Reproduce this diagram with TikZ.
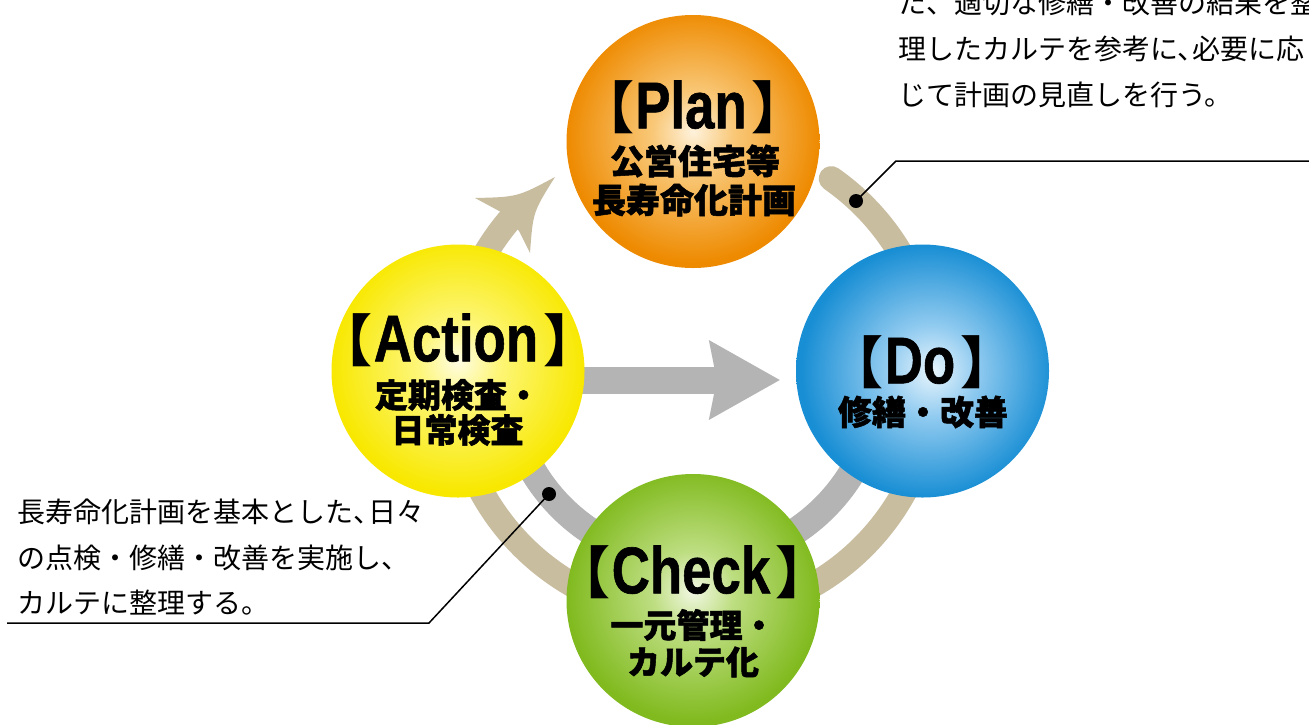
\documentclass[tikz,border=0pt]{standalone}
\usepackage{fontspec}
\usepackage{graphicx}
\newfontfamily\jp{Noto Sans CJK JP}
\newfontfamily\jph{Noto Sans CJK JP}[BoldFeatures={FakeBold=1.5}]
\newfontfamily\lat{Liberation Sans}[BoldFeatures={FakeBold=1}]
\usetikzlibrary{calc,arrows.meta}
\pgfdeclarelayer{bg}
\pgfsetlayers{bg,main}
\definecolor{tanband}{RGB}{201,189,160}
\definecolor{grayband}{RGB}{180,180,180}
\definecolor{planC}{RGB}{254,242,220}
\definecolor{planM}{RGB}{249,200,120}
\definecolor{planE}{RGB}{238,138,0}
\definecolor{actC}{RGB}{255,253,228}
\definecolor{actM}{RGB}{253,246,120}
\definecolor{actE}{RGB}{248,232,0}
\definecolor{doC}{RGB}{232,245,252}
\definecolor{doM}{RGB}{145,203,240}
\definecolor{doE}{RGB}{24,142,212}
\definecolor{chkC}{RGB}{242,248,228}
\definecolor{chkM}{RGB}{190,222,130}
\definecolor{chkE}{RGB}{128,186,30}
\pgfdeclareradialshading{planshade}{\pgfpoint{0bp}{2bp}}{color(0bp)=(planC); color(8bp)=(planM); color(25bp)=(planE); color(50bp)=(planE)}
\pgfdeclareradialshading{actshade}{\pgfpoint{0bp}{2bp}}{color(0bp)=(actC); color(8bp)=(actM); color(25bp)=(actE); color(50bp)=(actE)}
\pgfdeclareradialshading{doshade}{\pgfpoint{2bp}{0bp}}{color(0bp)=(doC); color(9bp)=(doM); color(25bp)=(doE); color(50bp)=(doE)}
\pgfdeclareradialshading{chkshade}{\pgfpoint{0bp}{2bp}}{color(0bp)=(chkC); color(8bp)=(chkM); color(25bp)=(chkE); color(50bp)=(chkE)}
\newcommand\cyctitle[1]{{\jp\bfseries\fontsize{56}{56}\selectfont 【}\kern1pt\scalebox{0.8}[1]{\lat\bfseries\fontsize{66}{66}\selectfont #1}\kern5pt{\jp\bfseries\fontsize{56}{56}\selectfont 】}}
\tikzset{
  cyc/.style={circle, minimum size=253pt, inner sep=0pt, draw=none, shade},
  title/.style={inner sep=0pt, anchor=center},
  jpline/.style={font=\jph\bfseries\fontsize{34}{34}\selectfont, inner sep=0pt, anchor=center},
  jplinesm/.style={jpline, font=\jph\bfseries\fontsize{33}{33}\selectfont},
  callout/.style={font=\jp\fontsize{28}{28}\selectfont, inner sep=0pt, anchor=base west},
  dotmark/.style={circle, fill=black, minimum size=14pt, inner sep=0pt},
  leader/.style={draw=black, line width=1.5pt},
  tanarc/.style={draw=tanband, line width=25pt},
  grayarc/.style={draw=grayband, line width=27pt},
}
\begin{document}
\begin{tikzpicture}[x=1pt,y=-1pt]
\useasboundingbox (0,0) rectangle (1309,724);
% circles
\node[cyc, shading=planshade] (plan) at (693,141.5) {};
\node[cyc, shading=actshade] (action) at (458,371) {};
\node[cyc, shading=doshade] (do) at (922.5,371) {};
\node[cyc, shading=chkshade] (check) at (693,600.5) {};
% rings and arrows behind
\begin{pgfonlayer}{bg}
\fill[white] (0,0) rectangle (1309,724);
\coordinate (ring) at (693,376);
\draw[tanarc, line cap=round] ($(ring)+(-55:241)$) arc[start angle=-55, end angle=222, radius=241];
\fill[tanband] (501,212) -- (475,198) .. controls (517.5,197) .. (555,177) .. controls (533,212) .. (530,253) -- (519,231) -- cycle;
\draw[grayarc] ($(ring)+(0:186)$) arc[start angle=0, end angle=180, radius=186];
\draw[grayarc, -{Stealth[length=71pt, width=80pt, inset=8pt, line width=0pt]}, shorten >=16pt] ([yshift=-9pt]action.center) -- ([yshift=-9pt]do.west);
\end{pgfonlayer}
% titles
\node[title] (planT) at (693,107) {\cyctitle{Plan}};
\node[jpline] (planA) at (695,161) {公営住宅等};
\node[jpline] (planB) at (694,200) {長寿命化計画};
\node[title] (actT) at (458,340) {\cyctitle{Action}};
\node[jplinesm] (actA) at (457.5,395) {定期検査・};
\node[jplinesm] (actB) at (457.5,430) {日常検査};
\node[title] (doT) at (922,362) {\cyctitle{Do}};
\node[jpline] (doA) at (923,412) {修繕・改善};
\node[title] (chkT) at (693,572) {\cyctitle{Check}};
\node[jplinesm] (chkA) at (693,625) {一元管理・};
\node[jplinesm] (chkB) at (693,662) {カルテ化};
% callouts
\node[dotmark] (dot1) at (856,201) {};
\coordinate (bend1) at (896,161);
\coordinate (end1) at (1309,161);
\draw[leader] (dot1.center) -- (bend1) -- (end1);
\node[dotmark] (dot2) at (549,494) {};
\coordinate (bend2) at (429,623);
\coordinate (end2) at (7,623);
\draw[leader] (dot2.center) -- (bend2) -- (end2);
\node[callout] (tr1) at (898,13.6) {た、適切な修繕・改善の結果を整};
\node[callout] (tr2) at (898,59.6) {理したカルテを参考に、\kern-.45em 必要に応};
\node[callout] (tr3) at (898,105.6) {じて計画の見直しを行う。};
\node[callout] (bl1) at (17,522.5) {長寿命化計画を基本とした、\kern-.45em 日々};
\node[callout] (bl2) at (17,568) {の点検・修繕・改善を実施し、};
\node[callout] (bl3) at (17,613.5) {カルテに整理する。};
\end{tikzpicture}
\end{document}
